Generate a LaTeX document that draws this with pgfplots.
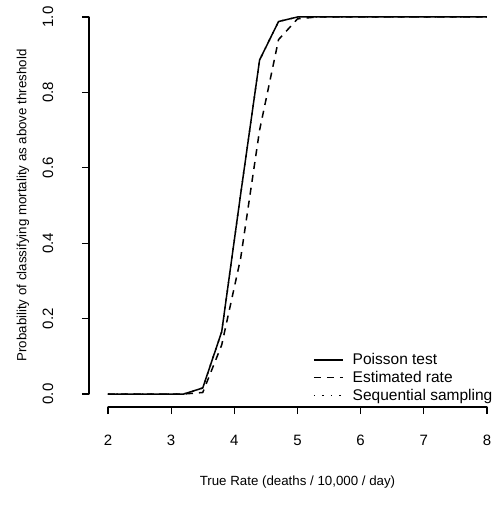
\documentclass[border=0pt]{standalone}
\usepackage{pgfplots}
\pgfplotsset{compat=1.18}
\usepackage{fontspec}
\setmainfont{Liberation Sans}
\begin{document}
\begin{tikzpicture}
\begin{axis}[
  name=ax,
  scale only axis, width=379pt, height=377pt,
  xmin=2, xmax=8, ymin=0, ymax=1,
  clip=false,
  axis lines=left,
  hide obscured x ticks=false,
  hide obscured y ticks=false,
  axis line style={draw=none},
  tick align=outside,
  major tick length=7pt,
  tick style={line width=1.2pt, black},
  xtick style={yshift=-13pt},
  ytick style={xshift=-19pt},
  xtick={2,3,4,5,6,7,8},
  ytick={0,0.2,0.4,0.6,0.8,1.0},
  /pgf/number format/assume math mode=true,
  tick label style={font=\fontsize{15}{17}\selectfont},
  xticklabel style={anchor=center, yshift=-39pt},
  yticklabel style={/pgf/number format/fixed, /pgf/number format/fixed zerofill, /pgf/number format/precision=1, anchor=center, xshift=-53pt, rotate=90},
  every axis x label/.style={at={(axis description cs:0.5,0)}, anchor=center, yshift=-88pt, font=\fontsize{13.3}{15}\selectfont},
  every axis y label/.style={at={(axis description cs:0,0.5)}, xshift=-85pt, rotate=90, anchor=center, font=\fontsize{13.3}{15}\selectfont},
  xlabel={True Rate (deaths / 10,000 / day)},
  ylabel={Probability of classifying mortality as above threshold},
  legend style={draw=none, fill=none, at={(axis description cs:0.541,0.113)}, anchor=north west, inner sep=0pt, font=\fontsize{15.5}{17}\selectfont, row sep=1pt},
  legend cell align=left,
  legend image code/.code={\draw[#1] (0pt,0pt) -- (29pt,0pt); \path (36pt,0pt);},
]
\draw[line width=1.2pt, black, line cap=round] ([yshift=-13pt]axis cs:2,0) -- ([yshift=-13pt]axis cs:8,0);
\draw[line width=1.2pt, black, line cap=round] ([xshift=-19pt]axis cs:2,0) -- ([xshift=-19pt]axis cs:2,1);
\addplot[black, line width=1.5pt] table {
x y
2.0 0
2.3 0
2.6 0
2.9 0
3.2 0
3.5 0.016
3.8 0.165
4.1 0.53
4.4 0.886
4.7 0.988
5.0 1.0
5.3 1.0
5.6 1.0
5.9 1.0
6.2 1.0
6.5 1.0
6.8 1.0
7.1 1.0
7.4 1.0
7.7 1.0
8.0 1.0
};
\addlegendentry{Poisson test}
\addplot[black, line width=1.5pt, dash pattern=on 7pt off 6pt] table {
x y
2.0 0
2.3 0
2.6 0
2.9 0
3.2 0
3.5 0.004
3.8 0.13
4.1 0.36
4.4 0.70
4.7 0.94
5.0 0.995
5.3 1.0
5.6 1.0
5.9 1.0
6.2 1.0
6.5 1.0
6.8 1.0
7.1 1.0
7.4 1.0
7.7 1.0
8.0 1.0
};
\addlegendentry{Estimated rate}
\addplot[black, line width=1.5pt, dash pattern=on 1.5pt off 7pt] table {
x y
2.0 0
2.3 0
2.6 0
2.9 0
3.2 0
3.5 0.016
3.8 0.165
4.1 0.53
4.4 0.886
4.7 0.988
5.0 1.0
5.3 1.0
5.6 1.0
5.9 1.0
6.2 1.0
6.5 1.0
6.8 1.0
7.1 1.0
7.4 1.0
7.7 1.0
8.0 1.0
};
\addlegendentry{Sequential sampling}
\end{axis}
\pgfresetboundingbox
\path ([shift={(-108pt,-112pt)}]ax.south west) rectangle ([shift={(12pt,17pt)}]ax.north east);
\end{tikzpicture}
\end{document}
